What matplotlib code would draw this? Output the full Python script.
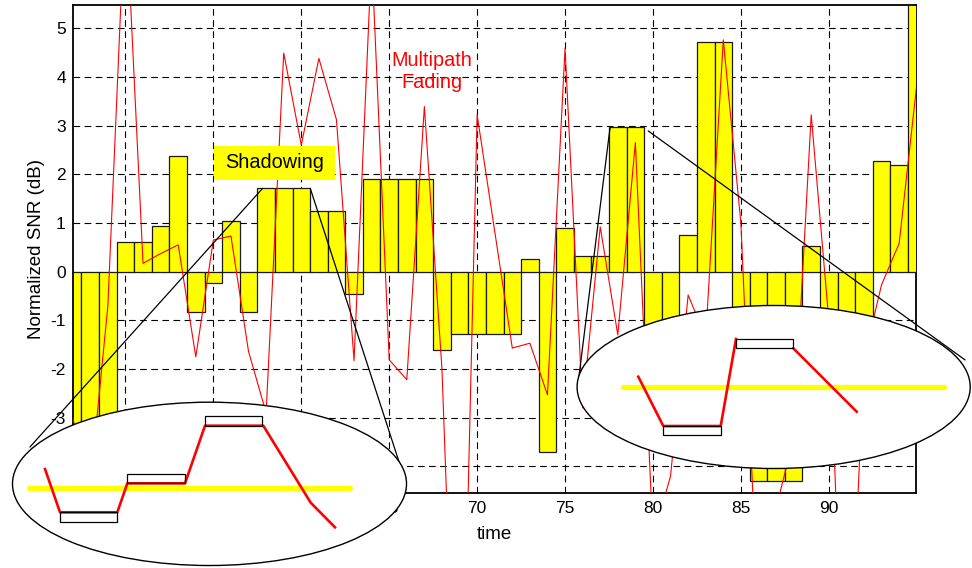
import numpy as np
import matplotlib
matplotlib.use("Agg")
import matplotlib.pyplot as plt
from matplotlib.patches import Ellipse, Rectangle, ConnectionPatch

plt.rcParams['font.family'] = ['Liberation Sans', 'DejaVu Sans']
plt.rcParams['axes.unicode_minus'] = False

# ---------------- data ----------------
time = list(range(47, 96))
shadowing = [-4.0, -4.0, -4.0, 0.60, 0.60, 0.94, 2.37, -0.82, -0.24, 1.03,
             -0.82, 1.71, 1.71, 1.71, 1.25, 1.25, -0.46, 1.90, 1.90, 1.90,
             1.90, -1.61, -1.29, -1.29, -1.29, -1.29, 0.26, -3.71, 0.90, 0.32,
             0.32, 2.96, 2.96, -2.0, -2.0, 0.75, 4.71, 4.71, -2.5, -4.30,
             -4.30, -4.30, 0.53, -2.0, -2.0, -2.0, 2.28, 2.20, 6.0]
fading = [-3.0, -4.4, -0.7, 7.7, 0.17, 0.37, 0.55, -1.75, 0.65, 0.73,
          -1.64, -2.9, 4.49, 2.60, 4.38, 3.12, -1.83, 6.5, -1.81, -2.22,
          3.39, -2.0, -12.0, 3.22, 0.83, -1.57, -1.47, -2.53, 4.59, -2.8,
          0.92, -1.30, 2.65, -5.46, -4.2, -0.48, -1.35, 4.76, 1.0, -7.2,
          -4.86, -3.42, 3.22, -1.0, -10.0, -1.8, -0.27, 0.58, 3.83]
x_ticks = [50, 55, 60, 65, 70, 75, 80, 85, 90]
y_ticks = [-4, -3, -2, -1, 0, 1, 2, 3, 4, 5]

# schematic insets (local schematic units)
left_red_x = [33.3, 48.3, 105.6, 115.6, 173.3, 193.3, 251.6, 299.0, 323.3]
left_red_y = [97.0, 53.7, 53.7, 82.7, 82.7, 140.3, 140.3, 63.3, 38.7]
left_boxes = [(48.3, 43.7, 57.3, 10.0), (115.6, 82.7, 57.7, 9.3), (193.3, 140.3, 57.3, 9.7)]
left_mean = (17.6, 338.3, 77.7)
right_red_x = [62.0, 87.0, 144.4, 159.7, np.nan, 217.0, 280.4]
right_red_y = [92.3, 43.0, 43.0, 130.0, np.nan, 120.7, 57.3]
right_boxes = [(87.0, 33.7, 57.4, 9.3), (159.7, 120.7, 57.3, 9.3)]
right_mean = (46.3, 368.2, 82.3)

# ---------------- figure ----------------
fig = plt.figure(figsize=(9.72, 5.68), dpi=100)
ax = fig.add_axes([0.0748, 0.1326, 0.8676, 0.8581])
ax.set_axisbelow(True)

ax.bar(time, shadowing, width=1.0, color='#ffff00', edgecolor='#1a1a1a',
       linewidth=0.9, zorder=2)
ax.plot(time, fading, color='#ff0000', lw=0.8, zorder=3)

ax.set_xlim(47, 94.96)
ax.set_ylim(-4.54, 5.47)
ax.set_xticks(x_ticks)
ax.set_yticks(y_ticks)
ax.grid(True, color='black', linestyle=(0, (6, 4)), linewidth=0.8)
ax.tick_params(length=0, labelsize=12.5, pad=5)
ax.tick_params(axis='x', pad=6)
for s in ax.spines.values():
    s.set_linewidth(1.3)
ax.spines['right'].set_zorder(1.5)
ax.set_xlabel('time', fontsize=13.5, labelpad=7)
ax.set_ylabel('Normalized SNR (dB)', fontsize=13.5, labelpad=4)

# Shadowing label
ax.add_patch(Rectangle((55.02, 1.88), 6.91, 0.70, facecolor='#ffff00',
                       edgecolor='none', zorder=4))
ax.text(58.48, 2.235, 'Shadowing', fontsize=14.3, ha='center', va='center',
        color='black', zorder=5)
ax.text(67.42, 4.11, 'Multipath\nFading', fontsize=14.3, ha='center',
        va='center', color='#ff0000', multialignment='center', zorder=5,
        linespacing=1.2)

# insets
def make_inset(rect, w, h, red_x, red_y, boxes, mean):
    a = fig.add_axes(rect, zorder=3)
    a.set_xlim(0, w)
    a.set_ylim(0, h)
    a.axis('off')
    a.patch.set_alpha(0)
    a.add_patch(Ellipse((0.5, 0.5), 0.996, 0.994, transform=a.transAxes,
                        facecolor='white', edgecolor='black', lw=1.0,
                        clip_on=False, zorder=1))
    a.plot([mean[0], mean[1]], [mean[2], mean[2]], color='#ffff00', lw=3.8,
           solid_capstyle='round', zorder=2)
    a.plot(red_x, red_y, color='#ff0000', lw=1.9, zorder=3)
    for (bx, by, bw, bh) in boxes:
        a.add_patch(Rectangle((bx, by), bw, bh, facecolor='none',
                              edgecolor='black', lw=0.9, zorder=4))
    return a

axL = make_inset([0.01204, 0.00352, 0.40700, 0.28926], 395.6, 164.3,
                 left_red_x, left_red_y, left_boxes, left_mean)
axR = make_inset([0.59290, 0.17430, 0.40607, 0.28873], 394.7, 164.0,
                 right_red_x, right_red_y, right_boxes, right_mean)

# zoom connector lines
for xyA, axB, xyB in [((57.8, 1.71), axL, (0.046, 0.724)),
                      ((60.51, 1.71), axL, (0.994, 0.523)),
                      ((77.56, 2.96), axR, (0.004, 0.512)),
                      ((79.73, 2.89), axR, (0.985, 0.665))]:
    con = ConnectionPatch(xyA=xyA, coordsA=ax.transData, xyB=xyB,
                          coordsB=axB.transAxes, color='black', lw=0.9,
                          zorder=2.5)
    fig.add_artist(con)

fig.savefig('out.png', dpi=100)
